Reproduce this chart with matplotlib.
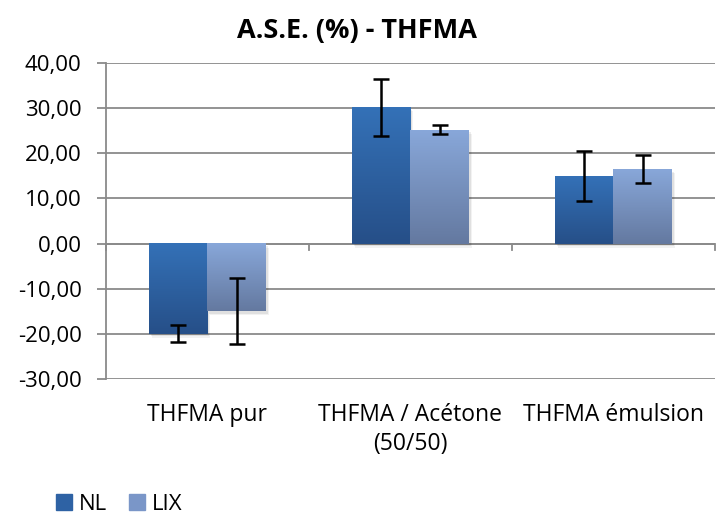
import numpy as np
from matplotlib import pyplot as plt
from matplotlib.colors import LinearSegmentedColormap
from matplotlib.patches import Rectangle

categories = ["THFMA pur", "THFMA / Acétone\n(50/50)", "THFMA émulsion"]
series = ["NL", "LIX"]
nl_values = [-20.0, 30.2, 15.0]
nl_errors = [1.9, 6.3, 5.5]
lix_values = [-15.0, 25.2, 16.5]
lix_errors = [7.3, 1.0, 3.05]
y_ticks = [-30, -20, -10, 0, 10, 20, 30, 40]

plt.rcParams['font.family'] = ['Open Sans', 'DejaVu Sans']

fig = plt.figure(figsize=(7.18, 5.19), dpi=100)
ax = fig.add_axes([0.1476, 0.2697, 0.848, 0.6089])

grads = {
    "NL": LinearSegmentedColormap.from_list("nl", ["#264F88", "#3471B7"]),
    "LIX": LinearSegmentedColormap.from_list("lix", ["#6479A0", "#88A7D9"]),
}
solid = {"NL": "#2E62A4", "LIX": "#7A96C8"}

x = np.arange(len(categories))
width = 0.288
grad = np.linspace(0, 1, 100).reshape(-1, 1)

for offset, name, vals, errs in [(-width / 2, "NL", nl_values, nl_errors),
                                 (width / 2, "LIX", lix_values, lix_errors)]:
    bars = ax.bar(x + offset, vals, width, color="none", zorder=3)
    for b in bars:
        x0, y0 = b.get_x(), b.get_y()
        w, h = b.get_width(), b.get_height()
        lo, hi = min(y0, y0 + h), max(y0, y0 + h)
        # ombre
        for k, a in [(1.0, 0.05), (0.6, 0.07)]:
            ax.add_patch(Rectangle((x0 + 0.014 * k, lo - 0.9 * k), w, hi - lo,
                                   color="#000000", alpha=a, zorder=2, lw=0))
        ax.imshow(grad, extent=(x0, x0 + w, lo, hi), origin="lower", aspect="auto",
                  cmap=grads[name], zorder=3)
    ax.errorbar(x + offset, vals, yerr=errs, fmt="none", ecolor="black",
                elinewidth=1.8, capsize=6, capthick=1.8, zorder=4)

ax.set_xlim(-0.5, len(categories) - 0.5)
ax.set_ylim(-30, 40)
ax.set_yticks(y_ticks)
ax.set_yticklabels([f"{v:.2f}".replace(".", ",") for v in y_ticks], fontsize=16)
ax.yaxis.grid(True, color="#8A8A8A", lw=1.3, zorder=0)
ax.tick_params(axis="y", length=6.5, color="#8A8A8A", width=1.3, pad=11)

for s in ["top", "right", "bottom"]:
    ax.spines[s].set_visible(False)
ax.spines["left"].set_color("#8A8A8A")
ax.spines["left"].set_linewidth(1.3)

# axe des categories a zero
ax.axhline(0, color="#8A8A8A", lw=1.3, zorder=1)
for b in np.arange(-0.5, len(categories)):
    ax.plot([b, b], [0, -1.5], color="#8A8A8A", lw=1.3, clip_on=False, zorder=1)

ax.set_xticks(x)
ax.set_xticklabels(categories, fontsize=16.5, linespacing=1.3)
ax.tick_params(axis="x", length=0, pad=17)

fig.text(0.497, 0.965, "A.S.E. (%) - THFMA", fontsize=19.5, fontweight="bold",
         ha="center", va="top")

handles = [Rectangle((0, 0), 1, 1, color=solid[s]) for s in series]
fig.legend(handles, series, loc="lower left", bbox_to_anchor=(0.05, -0.03), ncol=2,
           frameon=False, fontsize=16, handlelength=0.72, handleheight=0.72,
           handletextpad=0.3, columnspacing=1.0)

fig.savefig("out.png", dpi=100)
